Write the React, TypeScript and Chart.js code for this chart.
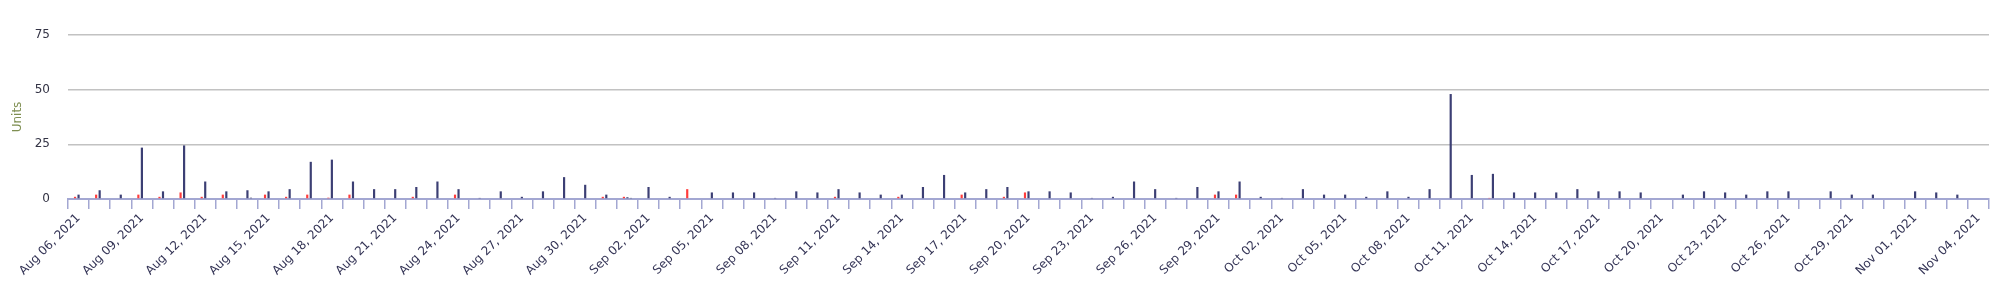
import React, { useEffect, useRef } from "react";
import { Chart, registerables } from "chart.js";

Chart.register(...registerables);

const startDate = [2021, 7, 6];
const dayCount = 91;
const monthNames = ["Jan", "Feb", "Mar", "Apr", "May", "Jun", "Jul", "Aug", "Sep", "Oct", "Nov", "Dec"];

const categories: string[] = [];
for (let i = 0; i < dayCount; i++) {
  const d = new Date(startDate[0], startDate[1], startDate[2] + i);
  const dd = String(d.getDate()).padStart(2, "0");
  categories.push(`${monthNames[d.getMonth()]} ${dd}, ${d.getFullYear()}`);
}

const navyValues = [
  2, 4, 2, 23.5, 3.5, 24.5, 8, 3.5, 4, 3.5,
  4.5, 17, 18, 8, 4.5, 4.5, 5.5, 8, 4.5, 0.5,
  3.5, 1, 3.5, 10, 6.5, 2, 0.8, 5.5, 1, 0,
  3, 3, 3, 0.5, 3.5, 3, 4.5, 3, 2, 2,
  5.5, 11, 3, 4.5, 5.5, 3.5, 3.5, 3, 0.5, 1,
  8, 4.5, 0.5, 5.5, 3.5, 8, 1, 0.5, 4.5, 2,
  2, 1, 3.5, 1, 4.5, 48, 11, 11.5, 3, 3,
  3, 4.5, 3.5, 3.5, 3, 0, 2, 3.5, 3, 2,
  3.5, 3.5, 0, 3.5, 2, 2, 0, 3.5, 3, 2,
  0,
];

const redValues = [
  1, 2, 0, 2, 1, 3, 1, 2, 0, 2,
  1, 2, 0.6, 2, 0, 0, 1, 0, 2, 0,
  0, 0, 0, 0, 0, 1, 1, 0, 0, 4.5,
  0, 0, 0, 0, 0, 0, 1, 0, 0, 1,
  0, 0, 2, 0, 1, 3, 0, 0, 0, 0,
  0, 0, 0, 0, 2, 2, 0, 0, 0, 0,
  0, 0, 0, 0, 0, 0, 0, 0.5, 0, 0,
  0.3, 0, 0, 0, 0, 0, 0, 0, 0, 0,
  0, 0, 0, 0, 0, 0, 0, 0, 0, 0,
  0,
];

const otherValues = [
  0, 0, 0, 0, 0, 0, 0, 0, 0.6, 0,
  0, 0, 0, 0, 0, 0, 0, 0, 0, 0,
  0, 0, 0, 0, 0, 0, 0.5, 0, 0, 0,
  0, 0, 0, 0, 0, 0, 0, 0, 0, 0,
  0, 0, 0, 0, 0, 0, 0, 0, 0, 0,
  0, 0, 0, 0, 0, 0, 0, 0, 0, 0,
  0, 0, 0, 0, 0, 0, 0, 0, 0, 0,
  0, 0, 0, 0, 0, 0, 0, 0, 0, 0,
  0, 0, 0, 0, 0, 0, 0, 0, 0, 0,
  0,
];

const yTicks = [0, 25, 50, 75];

export default function App() {
  const ref = useRef<HTMLCanvasElement | null>(null);

  useEffect(() => {
    document.body.style.margin = "0";
    Chart.defaults.font.family = "'DejaVu Sans', sans-serif";
    Chart.defaults.font.size = 12;
    const axisColor = "#a3a7d2";
    const chart = new Chart(ref.current!, {
      type: "bar",
      data: {
        labels: categories,
        datasets: [
          { label: "Red", data: redValues, backgroundColor: "#ff3c3c", categoryPercentage: 0.5, barPercentage: 0.62 },
          { label: "Units", data: navyValues, backgroundColor: "#3c3f74", categoryPercentage: 0.5, barPercentage: 0.62 },
          { label: "Other", data: otherValues, backgroundColor: "#4a4c6e", categoryPercentage: 0.5, barPercentage: 0.62 },
        ],
      },
      options: {
        animation: false,
        responsive: true,
        maintainAspectRatio: false,
        layout: { padding: { top: 35, right: 11, left: 0, bottom: 0 } },
        plugins: { legend: { display: false }, tooltip: { enabled: false } },
        scales: {
          x: {
            offset: true,
            grid: {
              offset: true,
              drawOnChartArea: false,
              drawTicks: true,
              tickLength: 10,
              color: axisColor,
              lineWidth: 1.5,
            },
            border: { display: true, color: axisColor, width: 2 },
            ticks: {
              autoSkip: false,
              maxRotation: 45,
              minRotation: 45,
              padding: 2,
              color: "#333355",
              font: { size: 12 },
              callback: (_v: any, i: number) => (i % 3 === 0 ? categories[i] : ""),
            },
            afterFit: (scale: any) => {
              scale.height = 99;
            },
          },
          y: {
            min: yTicks[0],
            max: yTicks[yTicks.length - 1],
            afterBuildTicks: (scale: any) => {
              scale.ticks = yTicks.map((v) => ({ value: v }));
            },
            grid: {
              drawTicks: false,
              color: (ctx: any) => (ctx.tick && ctx.tick.value === 0 ? "rgba(0,0,0,0)" : "#c2c2c2"),
              lineWidth: 1.5,
            },
            border: { display: false },
            ticks: {
              padding: 18,
              color: "#333344",
              font: { size: 12 },
            },
            title: {
              display: true,
              text: "Units",
              color: "#7f8f52",
              font: { size: 12 },
              padding: { top: 11, bottom: 0 },
            },
            afterFit: (scale: any) => {
              scale.width = 68;
            },
          },
        },
      },
    });
    return () => chart.destroy();
  }, []);

  return (
    <div style={{ position: "absolute", left: 0, top: 0, width: 2000, height: 298 }}>
      <canvas ref={ref} />
    </div>
  );
}
